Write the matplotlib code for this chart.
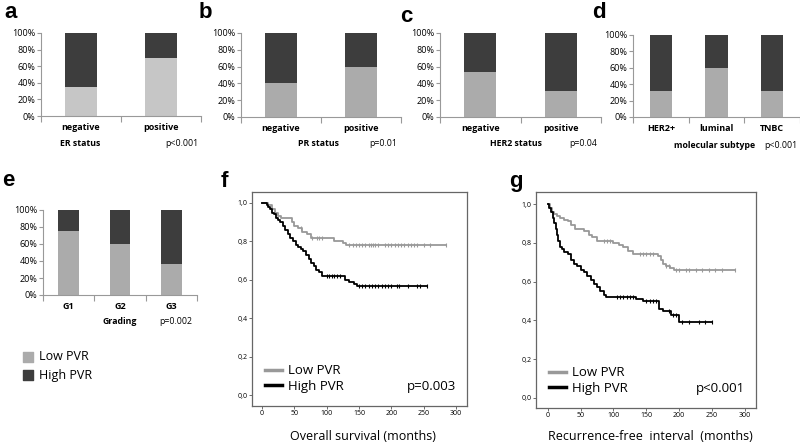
import matplotlib
matplotlib.use('Agg')
import matplotlib.pyplot as plt
from matplotlib.lines import Line2D
import numpy as np

plt.rcParams['font.family'] = ['Open Sans', 'DejaVu Sans']

# --- bar panels: share of Low PVR (rest is High PVR), in percent ---
er_cats = ['negative', 'positive']
er_low = [35, 70]
pr_cats = ['negative', 'positive']
pr_low = [40, 59]
her2_cats = ['negative', 'positive']
her2_low = [53, 31]
sub_cats = ['HER2+', 'luminal', 'TNBC']
sub_low = [32, 60, 32]
grade_cats = ['G1', 'G2', 'G3']
grade_low = [75, 60, 37]

# --- Kaplan-Meier curves (step times in months / survival) ---
os_low_t = [0, 10, 15, 20, 25, 30, 46, 50, 55, 62, 70, 76, 100, 112, 125, 130, 285]
os_low_s = [1.0, 0.99, 0.97, 0.95, 0.93, 0.92, 0.90, 0.88, 0.87, 0.85, 0.84, 0.82, 0.815, 0.80, 0.79, 0.78, 0.78]
os_low_cens = [60, 78, 85, 88, 92, 135, 140, 145, 150, 155, 160, 165, 168, 172, 175, 180,
               190, 195, 200, 205, 210, 215, 220, 225, 230, 235, 240, 250, 260, 285]
os_high_t = [0, 7, 10, 13, 16, 19, 22, 25, 28, 32, 36, 40, 44, 48, 52, 56, 60, 64, 68, 72,
             76, 80, 84, 88, 92, 128, 135, 142, 147, 255]
os_high_s = [1.0, 0.99, 0.98, 0.97, 0.95, 0.94, 0.92, 0.91, 0.90, 0.88, 0.86, 0.84, 0.82, 0.80,
             0.78, 0.77, 0.76, 0.75, 0.73, 0.71, 0.69, 0.67, 0.65, 0.64, 0.62, 0.60, 0.59, 0.58, 0.57, 0.57]
os_high_cens = [100, 104, 108, 112, 116, 120, 150, 155, 160, 165, 170, 175, 180, 185, 190,
                195, 200, 208, 212, 225, 240, 245, 255]

rfi_low_t = [0, 3, 6, 10, 14, 18, 24, 30, 36, 42, 55, 62, 68, 75, 100, 108, 115, 122, 130,
             168, 172, 176, 180, 186, 192, 285]
rfi_low_s = [1.0, 0.98, 0.96, 0.95, 0.94, 0.93, 0.92, 0.91, 0.89, 0.87, 0.86, 0.84, 0.83, 0.81,
             0.80, 0.79, 0.78, 0.76, 0.74, 0.73, 0.71, 0.69, 0.68, 0.67, 0.66, 0.66]
rfi_low_cens = [85, 90, 95, 140, 145, 150, 155, 160, 180, 185, 195, 200, 210, 215, 225, 235,
                245, 255, 265, 285]
rfi_high_t = [0, 2, 5, 8, 10, 12, 14, 16, 18, 21, 25, 30, 35, 40, 45, 50, 55, 60, 65, 70, 75,
              80, 85, 89, 135, 145, 170, 175, 188, 199, 250]
rfi_high_s = [1.0, 0.98, 0.96, 0.93, 0.90, 0.87, 0.84, 0.81, 0.78, 0.77, 0.75, 0.74, 0.71, 0.69,
              0.68, 0.66, 0.65, 0.63, 0.61, 0.59, 0.57, 0.55, 0.53, 0.52, 0.51, 0.50, 0.46, 0.45,
              0.43, 0.39, 0.39]
rfi_high_cens = [105, 110, 115, 120, 125, 130, 150, 155, 160, 165, 185, 190, 195, 205, 215,
                 230, 240, 250]

LOW = '#ababab'
HIGH = '#3d3d3d'
W, H = 800, 445

fig = plt.figure(figsize=(8, 4.45), dpi=100)


def px_axes(l, t, r, b):
    return fig.add_axes([l / W, 1 - b / H, (r - l) / W, (b - t) / H])


def ftext(x, y, s, **kw):
    fig.text(x / W, 1 - y / H, s, **kw)


def bar_panel(box, cats, low, low_col=LOW):
    ax = px_axes(*box)
    x = np.arange(len(cats))
    low = np.array(low)
    ax.bar(x, low, 0.4, color=low_col, zorder=2)
    ax.bar(x, 100 - low, 0.4, bottom=low, color=HIGH, zorder=2)
    ax.set_xlim(-0.5, len(cats) - 0.5)
    ax.set_ylim(0, 100)
    ax.set_yticks(range(0, 101, 20))
    ax.set_yticklabels(['%d%%' % v for v in range(0, 101, 20)], fontsize=6.5)
    ax.set_xticks(np.arange(len(cats) + 1) - 0.5)
    ax.set_xticklabels([])
    ax.set_xticks(x, minor=True)
    ax.set_xticklabels(cats, minor=True, fontsize=6.5, fontweight='bold')
    ax.tick_params(axis='x', which='minor', length=0, pad=5)
    ax.tick_params(axis='x', which='major', length=4, color='#999999', direction='out')
    ax.tick_params(axis='y', length=3, color='#999999', pad=1)
    for s in ['top', 'right']:
        ax.spines[s].set_visible(False)
    for s in ['left', 'bottom']:
        ax.spines[s].set_color('#999999')
        ax.spines[s].set_linewidth(0.8)
    return ax


bar_panel((41, 33, 201, 116), er_cats, er_low, low_col='#c6c6c6')
bar_panel((241, 33, 401, 117), pr_cats, pr_low)
bar_panel((440, 33, 601, 117), her2_cats, her2_low)
bar_panel((633, 35, 800, 117), sub_cats, sub_low)
bar_panel((43, 210, 197, 295), grade_cats, grade_low)

lab = dict(fontsize=6.3, fontweight='bold', ha='center', va='center')
pv = dict(fontsize=6.3, ha='center', va='center')
ftext(80, 143, 'ER status', **lab)
ftext(182, 143, 'p<0.001', **pv)
ftext(318, 143, 'PR status', **lab)
ftext(383, 143, 'p=0.01', **pv)
ftext(516, 143, 'HER2 status', **lab)
ftext(583, 143, 'p=0.04', **pv)
ftext(715, 145, 'molecular subtype', **lab)
ftext(797, 145, 'p<0.001', fontsize=6.3, ha='right', va='center')
ftext(120, 322, 'Grading', **lab)
ftext(176, 322, 'p=0.002', **pv)

# panel letters
pl = dict(fontsize=16, fontweight='bold', family='Liberation Sans', va='baseline')
ftext(4, 18, 'a', **pl)
ftext(199, 18, 'b', **pl)
ftext(400, 22, 'c', **pl)
ftext(592, 18, 'd', **pl)
ftext(2, 186, 'e', **pl)
ftext(221, 187, 'f', **pl)
ftext(509, 187, 'g', **pl)

# bar legend
lg = fig.add_axes([0, 0, 1, 1], facecolor='none')
lg.set_xlim(0, W)
lg.set_ylim(H, 0)
lg.axis('off')
lg.scatter([28], [357], marker='s', s=45, color=LOW)
lg.scatter([28], [375], marker='s', s=45, color=HIGH)
ftext(39, 357, 'Low PVR', fontsize=9, va='center')
ftext(39, 375, 'High PVR', fontsize=9, va='center')


def km_panel(box, xlim, ylim, curves, ptext, xlabel, xlabel_x):
    ax = px_axes(*box)
    for t, s, cens, col in curves:
        ax.step(t, s, where='post', color=col, lw=1.3)
        idx = np.searchsorted(t, cens, side='right') - 1
        ax.plot(cens, np.array(s)[idx], ls='none', marker='|', ms=3.5, mew=0.8, color=col)
    ax.set_xlim(*xlim)
    ax.set_ylim(*ylim)
    ax.set_xticks(range(0, 301, 50))
    ax.set_yticks(np.arange(0, 1.01, 0.2))
    ax.set_yticklabels([('%.1f' % v).replace('.', ',') for v in np.arange(0, 1.01, 0.2)])
    ax.tick_params(labelsize=5, length=2, width=0.6, color='#555555', pad=1)
    for s in ax.spines.values():
        s.set_color('#666666')
        s.set_linewidth(0.9)
    handles = [Line2D([], [], color='#999999', lw=2.5), Line2D([], [], color='black', lw=2.5)]
    ax.legend(handles, ['Low PVR', 'High PVR'], loc='lower left', frameon=False,
              handlelength=1.3, handletextpad=0.4, labelspacing=0.2, borderaxespad=0.6,
              prop={'family': 'Open Sans', 'size': 9.5})
    ax.text(0.95, 0.06, ptext, transform=ax.transAxes, ha='right', va='bottom',
            fontsize=9.5, family='Open Sans')
    ftext(xlabel_x, 437, xlabel, fontsize=9, family='Open Sans', ha='center', va='center')
    return ax


km_panel((252, 192, 467, 406), (-15.5, 317), (-0.057, 1.057),
         [(os_low_t, os_low_s, os_low_cens, '#999999'),
          (os_high_t, os_high_s, os_high_cens, 'black')],
         'p=0.003', 'Overall survival (months)', 363)
km_panel((536, 192, 756, 408), (-18, 317), (-0.052, 1.062),
         [(rfi_low_t, rfi_low_s, rfi_low_cens, '#999999'),
          (rfi_high_t, rfi_high_s, rfi_high_cens, 'black')],
         'p<0.001', 'Recurrence-free  interval  (months)', 650)

fig.savefig('out.png', dpi=100)
